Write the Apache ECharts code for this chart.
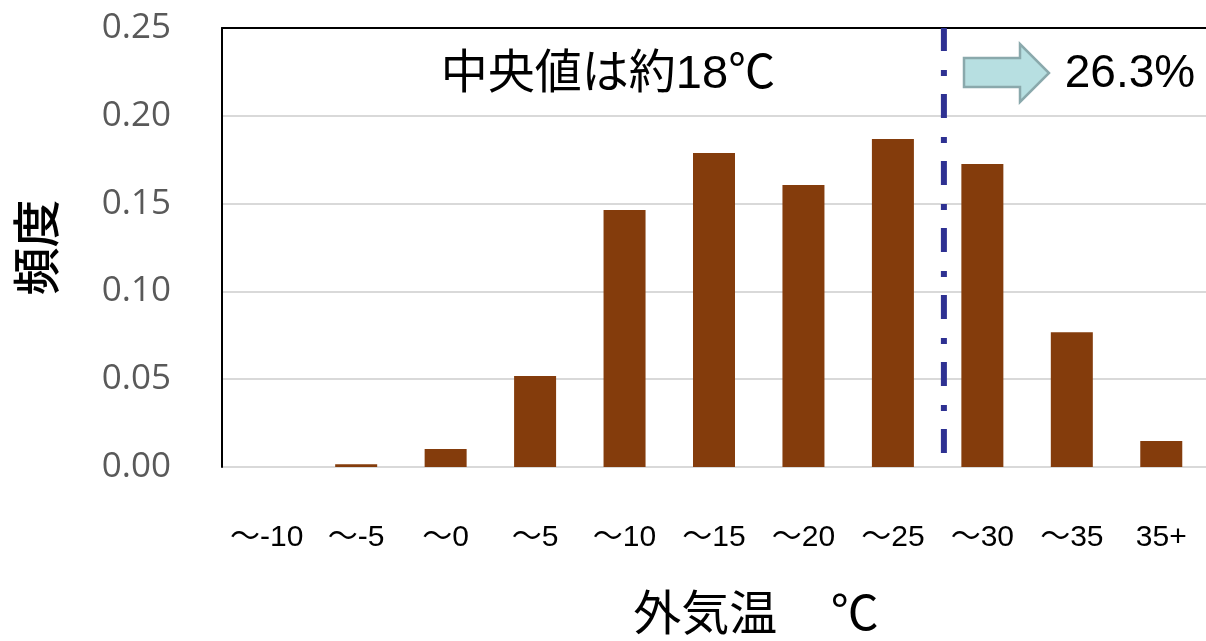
<!DOCTYPE html>
<html>
<head>
<meta charset="utf-8">
<script src="https://cdn.jsdelivr.net/npm/echarts@6/dist/echarts.min.js"></script>
<style>
  html, body { margin: 0; padding: 0; background: #ffffff; }
  #chart { width: 1206px; height: 641px; }
</style>
</head>
<body>
<div id="chart"></div>
<script>
// Outdoor temperature bins and their relative frequency
const categories = ['～-10', '～-5', '～0', '～5', '～10', '～15', '～20', '～25', '～30', '～35', '35+'];
const frequency = [0, 0.0015, 0.0103, 0.0518, 0.1464, 0.1788, 0.1606, 0.1868, 0.1725, 0.0768, 0.0148];
const yTicks = { min: 0, max: 0.25, step: 0.05 };
// Median marker position on the bin scale (bins counted from 0) and its span
const medianMarkX = 8.07;
const medianMarkSpan = [0.008, 0.25];
const medianText = '中央値は約18℃';
const shareAboveText = '26.3%';

const FONT = '"Liberation Sans", Arial, "Noto Sans CJK JP", sans-serif';

const chart = echarts.init(document.getElementById('chart'), null, { renderer: 'canvas' });

chart.setOption({
  animation: false,
  backgroundColor: '#ffffff',
  grid: { left: 222, right: 0, top: 28, bottom: 174, containLabel: false, outerBoundsMode: 'none' },
  xAxis: [
    {
      type: 'category',
      data: categories,
      position: 'bottom',
      axisLine: { show: false },
      axisTick: { show: false },
      axisLabel: { color: '#000000', fontSize: 30, fontFamily: FONT, margin: 56, interval: 0 },
      name: '外気温    ℃',
      nameLocation: 'middle',
      nameGap: 126,
      nameTextStyle: { color: '#000000', fontSize: 48, fontFamily: FONT, padding: [0, 0, 0, 84] }
    },
    {
      type: 'value',
      min: 0,
      max: categories.length,
      position: 'top',
      axisLine: { show: true, lineStyle: { color: '#000000', width: 2 } },
      axisTick: { show: false },
      axisLabel: { show: false },
      splitLine: { show: false }
    }
  ],
  yAxis: {
    type: 'value',
    min: yTicks.min,
    max: yTicks.max,
    interval: yTicks.step,
    axisLine: { show: true, lineStyle: { color: '#000000', width: 2 } },
    axisTick: { show: false },
    splitLine: { lineStyle: { color: '#D9D9D9', width: 2 } },
    axisLabel: {
      color: '#595959', fontSize: 35, fontFamily: '"Open Sans", "Noto Sans", sans-serif', margin: 51,
      formatter: v => v.toFixed(2)
    },
    name: '頻度',
    nameLocation: 'middle',
    nameGap: 162,
    nameRotate: 90,
    nameTextStyle: { color: '#000000', fontSize: 48, fontFamily: '"Noto Sans CJK JP", sans-serif', fontWeight: 500 }
  },
  series: [
    {
      type: 'bar',
      data: frequency,
      barWidth: 42,
      itemStyle: { color: '#843C0C' },
      z: 2
    },
    {
      type: 'line',
      xAxisIndex: 1,
      data: [[medianMarkX, medianMarkSpan[0]], [medianMarkX, medianMarkSpan[1]]],
      symbol: 'none',
      lineStyle: { color: '#2E3192', width: 6, type: [24, 18, 6, 19], cap: 'butt' },
      z: 3
    }
  ],
  graphic: [
    {
      type: 'text',
      x: 608, y: 75,
      style: {
        text: medianText, fill: '#000000', fontSize: 47, fontFamily: FONT,
        textAlign: 'center', textVerticalAlign: 'middle'
      }
    },
    {
      type: 'polygon',
      shape: { points: [[964, 58], [1020, 58], [1020, 44], [1049, 73], [1020, 102], [1020, 87], [964, 87]] },
      style: { fill: '#B7DFE1', stroke: '#8AA9AC', lineWidth: 2.5 }
    },
    {
      type: 'text',
      x: 1130, y: 74,
      style: {
        text: shareAboveText, fill: '#000000', fontSize: 46, fontFamily: FONT,
        textAlign: 'center', textVerticalAlign: 'middle'
      }
    }
  ]
});
</script>
</body>
</html>
